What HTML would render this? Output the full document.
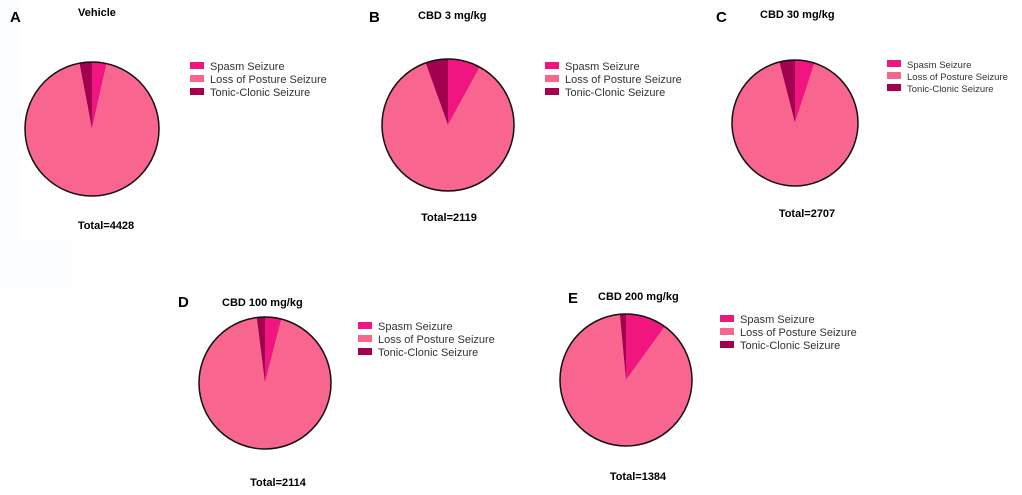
<!DOCTYPE html>
<html><head><meta charset="utf-8"><style>
html,body{margin:0;padding:0;background:#fff;}
svg text{font-family:"Liberation Sans",Arial,sans-serif;}
</style></head><body>
<svg id="c" width="1022" height="490" xmlns="http://www.w3.org/2000/svg">
<rect x="0" y="0" width="72" height="288" fill="#fbfcfe"/>
<rect x="20" y="0" width="300" height="240" fill="#fff"/>
</svg>
<script>
const panelLetters=["A","B","C","D","E"];
const panelTitles=["Vehicle","CBD 3 mg/kg","CBD 30 mg/kg","CBD 100 mg/kg","CBD 200 mg/kg"];
const totals=[4428,2119,2707,2114,1384];
const spasmPct=[3.5,8,5,4,10];
const tonicPct=[3,5.5,4,2,1.5];
const seriesNames=["Spasm Seizure","Loss of Posture Seizure","Tonic-Clonic Seizure"];
const colors=["#f0157f","#f8668f","#a3004f"];
const layout=[
 {cx:92,cy:129,r:67,lx:10,ly:22,tx:78,ty:16,gx:190,gy:62,dy:13,sy:229,sx:106,fs:11},
 {cx:448,cy:125,r:66,lx:369,ly:22,tx:418,ty:19,gx:545,gy:62,dy:13,sy:221,sx:449,fs:11},
 {cx:795,cy:123,r:63,lx:716,ly:22,tx:760,ty:18,gx:887,gy:60,dy:12,sy:217,sx:807,fs:9.5},
 {cx:265,cy:383,r:66,lx:178,ly:307,tx:222,ty:306,gx:358,gy:322,dy:13,sy:486,sx:278,fs:11},
 {cx:626,cy:380,r:66,lx:568,ly:303,tx:598,ty:300,gx:720,gy:315,dy:13,sy:480,sx:638,fs:11}
];
const NS="http://www.w3.org/2000/svg";
const svg=document.getElementById('c');
function mk(t,a){const e=document.createElementNS(NS,t);for(const k in a)e.setAttribute(k,a[k]);svg.appendChild(e);return e;}
function pt(cx,cy,r,f){const a=f*2*Math.PI;return [cx+r*Math.sin(a),cy-r*Math.cos(a)];}
function slice(L,f0,f1,col,name){
 const [x0,y0]=pt(L.cx,L.cy,L.r,f0),[x1,y1]=pt(L.cx,L.cy,L.r,f1);
 const big=(f1-f0)>0.5?1:0;
 const p=mk('path',{d:`M${L.cx},${L.cy}L${x0},${y0}A${L.r},${L.r} 0 ${big} 1 ${x1},${y1}Z`,fill:col});
 
 
}
panelLetters.forEach((letter,i)=>{
 const L=layout[i];const s=spasmPct[i]/100,t=tonicPct[i]/100;
 const id=letter.toLowerCase();
 slice(L,0,s,colors[0],'slice-spasm-'+id);
 slice(L,s,1-t,colors[1],'slice-loss-of-posture-'+id);
 slice(L,1-t,1,colors[2],'slice-tonic-clonic-'+id);
 const c=mk('circle',{cx:L.cx,cy:L.cy,r:L.r,fill:'none',stroke:'#111','stroke-width':1.5});
 
 
 const pl=mk('text',{x:L.lx,y:L.ly,'font-size':15,'font-weight':'bold',fill:'#000'});pl.textContent=letter;
 
 
 const ti=mk('text',{x:L.tx,y:L.ty,'font-size':11,'font-weight':'bold',fill:'#000'});ti.textContent=panelTitles[i];
 
 
 const to=mk('text',{x:L.sx,y:L.sy,'font-size':11,'font-weight':'bold','text-anchor':'middle',fill:'#000'});to.textContent='Total='+totals[i];
 
 
 seriesNames.forEach((n,j)=>{
  const y=L.gy+j*L.dy;
  const r=mk('rect',{x:L.gx,y:y,width:14,height:7,fill:colors[j]});
  
  
  const tx=mk('text',{x:L.gx+20,y:y+8,'font-size':L.fs,fill:'#333'});tx.textContent=n;
  
  
 });
});
</script>
</body></html>
